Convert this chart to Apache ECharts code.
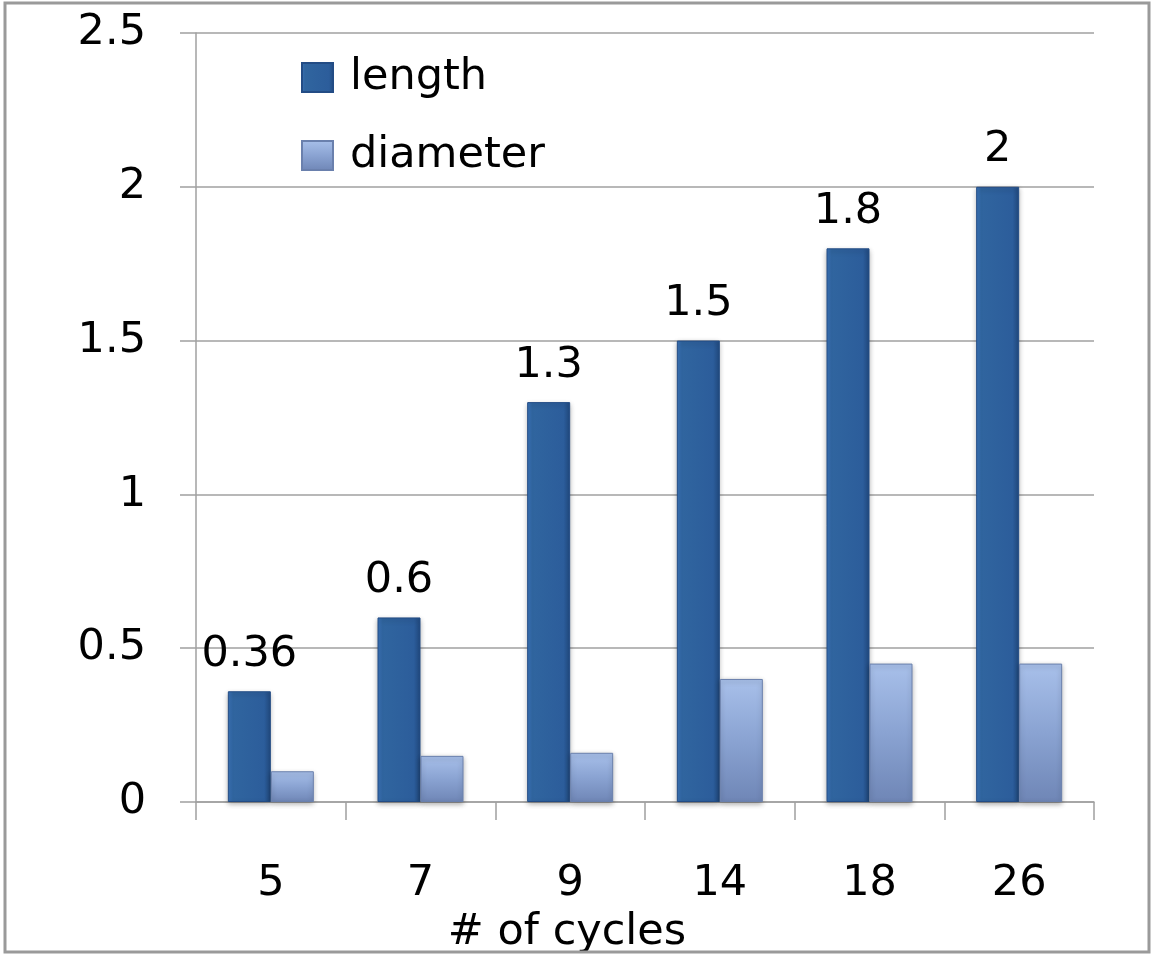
<!DOCTYPE html>
<html><head><meta charset="utf-8">
<script src="https://cdn.jsdelivr.net/npm/echarts@6/dist/echarts.min.js"></script>
<style>html,body{margin:0;padding:0;background:#fff}#c{width:1152px;height:955px}</style>
</head><body><div id="c"></div>
<script>
var categories = ['5', '7', '9', '14', '18', '26'];
var lengthValues = [0.36, 0.6, 1.3, 1.5, 1.8, 2];
var diameterValues = [0.1, 0.15, 0.16, 0.4, 0.45, 0.45];
var seriesNames = ['length', 'diameter'];
var xTitle = '# of cycles';

var FONT = 'DejaVu Sans';
var FS = 43;
var darkColor = new echarts.graphic.LinearGradient(0, 0, 1, 0, [
  {offset: 0, color: '#3b74bb'}, {offset: 0.12, color: '#30659f'},
  {offset: 0.85, color: '#2c5d9b'}, {offset: 1, color: '#214a80'}]);
var lightColor = new echarts.graphic.LinearGradient(0, 0, 0, 1, [
  {offset: 0, color: '#a8c0ea'}, {offset: 0.5, color: '#8aa3d2'},
  {offset: 1, color: '#6f86b6'}]);

var chart = echarts.init(document.getElementById('c'));
chart.setOption({
  backgroundColor: '#fff',
  animation: false,
  textStyle: {fontFamily: FONT},
  grid: {left: 196, right: 58, top: 33, bottom: 153},
  legend: {
    orient: 'vertical', left: 296, top: 51, icon: 'rect',
    itemWidth: 31, itemHeight: 29, itemGap: 35,
    textStyle: {fontFamily: FONT, fontSize: FS, color: '#000', lineHeight: 30, padding: [0, 0, 0, 12]},
    data: seriesNames
  },
  xAxis: {
    type: 'category', data: categories,
    axisLine: {lineStyle: {color: '#a0a0a0', width: 1.5}},
    axisTick: {show: true, length: 18, lineStyle: {color: '#a0a0a0', width: 1.5}},
    axisLabel: {fontFamily: FONT, fontSize: FS, color: '#000', margin: 60}
  },
  yAxis: {
    type: 'value', min: 0, max: 2.5, interval: 0.5,
    axisLine: {show: true, lineStyle: {color: '#a0a0a0', width: 1.5}},
    axisTick: {show: true, length: 16, lineStyle: {color: '#a0a0a0', width: 1.5}},
    splitLine: {lineStyle: {color: '#a0a0a0', width: 1.5}},
    axisLabel: {fontFamily: FONT, fontSize: FS, color: '#000', margin: 50}
  },
  series: [
    {name: seriesNames[0], type: 'bar', data: lengthValues, barWidth: 43, barGap: '0%',
     itemStyle: {color: darkColor, borderColor: '#234c85', borderWidth: 1,
       shadowColor: 'rgba(0,0,0,0.3)', shadowBlur: 5, shadowOffsetY: 2},
     label: {show: true, position: 'top', distance: 15, fontFamily: FONT, fontSize: FS, color: '#000'}},
    {name: seriesNames[1], type: 'bar', data: diameterValues, barWidth: 43,
     itemStyle: {color: lightColor, borderColor: '#6a80ad', borderWidth: 1,
       shadowColor: 'rgba(0,0,0,0.3)', shadowBlur: 5, shadowOffsetY: 2}}
  ],
  graphic: [
    {type: 'rect', shape: {x: 5, y: 3, width: 1144, height: 949},
     style: {fill: 'none', stroke: '#9a9a9a', lineWidth: 3}, z: 100},
    {type: 'text', x: 567, y: 933, style: {text: xTitle, font: FS + 'px ' + FONT, fill: '#000',
      textAlign: 'center', textVerticalAlign: 'middle'}}
  ]
});
</script></body></html>
